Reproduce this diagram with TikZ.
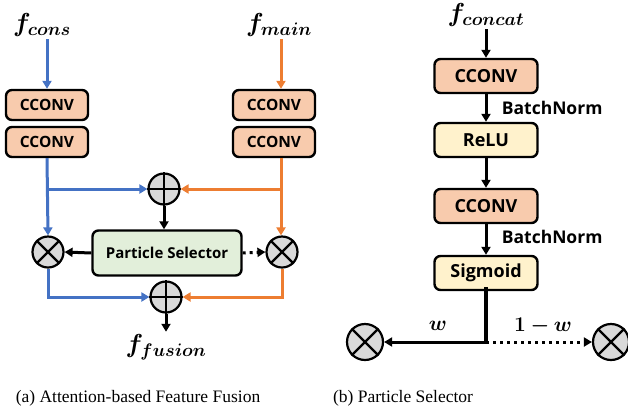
\documentclass[tikz,border=0pt]{standalone}
\usepackage{fix-cm}
\usepackage{amsmath}
\usepackage{bm}
\usepackage{fontspec}
\setmainfont{Liberation Serif}
\newfontfamily\boxfont{Open Sans}
\usepackage{tikz}
\usetikzlibrary{arrows.meta}
\usetikzlibrary{calc}
\definecolor{convfill}{HTML}{F8CBAD}
\definecolor{actfill}{HTML}{FFF2CC}
\definecolor{selfill}{HTML}{E2EFDA}
\definecolor{opfill}{HTML}{D9D9D9}
\definecolor{consblue}{HTML}{4472C4}
\definecolor{mainorange}{HTML}{ED7D31}

\begin{document}
\begin{tikzpicture}[x=1pt,y=-1pt,line width=3pt,
  >={Triangle[length=8pt,width=9pt]},
  layer/.style={draw,rounded corners=6pt,line width=2.4pt,inner sep=0pt,
    font=\boxfont\bfseries\fontsize{15.5}{17}\selectfont},
  cconv/.style={layer,fill=convfill,minimum width=82pt,minimum height=30pt},
  bigconv/.style={layer,fill=convfill,minimum width=103pt,minimum height=34pt,
    font=\boxfont\bfseries\fontsize{18}{20}\selectfont},
  act/.style={layer,fill=actfill,minimum width=103pt,minimum height=34pt,
    font=\boxfont\bfseries\fontsize{18}{20}\selectfont},
  op/.style={circle,draw,fill=opfill,line width=2.2pt,minimum size=#1,inner sep=0pt},
  op/.default=31pt,
  feat/.style={font=\fontsize{26}{28}\selectfont,inner sep=1pt},
  bnlabel/.style={anchor=west,font=\boxfont\bfseries\fontsize{17.5}{19}\selectfont},
  caption/.style={font=\fontsize{17.5}{20}\selectfont}]

  \useasboundingbox (0,0) rectangle (628,413);

  % (a) feature fusion
  \node[feat] at (42,25) (fcons) {$\bm{f_{cons}}$};
  \node[feat] at (279,25) (fmain) {$\bm{f_{main}}$};
  \node[cconv] at (47,105) (cc1) {CCONV};
  \node[cconv] at (47,142) (cc2) {CCONV};
  \node[cconv] at (274,105) (cm1) {CCONV};
  \node[cconv] at (274,142) (cm2) {CCONV};
  \coordinate (otop) at ([xshift=7pt]cm1.north);
  \coordinate (otap) at ([xshift=7pt]cm2.south);

  \node[op] at (164,189) (add1) {};
  \node[op] at (48,252) (mull) {};
  \node[op] at (282,252) (mulr) {};
  \node[op] at (166,297) (add2) {};
  \node[layer,fill=selfill,minimum width=149pt,minimum height=45pt,
    font=\boxfont\bfseries\fontsize{15}{17}\selectfont] at (167,253) (sel) {Particle Selector};
  \node[feat] at (166,347) (ffus) {$\bm{f_{fusion}}$};

  \foreach \o in {add1,add2}{
    \draw[line width=2.2pt] (\o.north) -- (\o.south) (\o.west) -- (\o.east);
  }
  \foreach \o in {mull,mulr}{
    \draw[line width=2.2pt] (\o.north west) -- (\o.south east) (\o.north east) -- (\o.south west);
  }

  \draw[->,consblue] (cc1.north |- fcons.south) -- (cc1.north);
  \draw[->,mainorange] (otop |- fmain.south) -- (otop);
  \draw[->,consblue] (cc2.south) -- (mull.north);
  \draw[->,consblue] (cc2.south |- add1) -- (add1.west);
  \draw[->,mainorange] (otap) -- (otap |- mulr.north);
  \draw[->,mainorange] (otap |- add1) -- (add1.east);
  \draw[->] (add1.south) -- (add1.south |- sel.north);
  \draw[->] (sel.west) -- (mull.east);
  \draw[->,dash pattern=on 3pt off 4pt] (sel.east) -- (mulr.west);
  \draw[->,consblue] (mull.south) |- (add2.west);
  \draw[->,mainorange] (mulr.south) |- (add2.east);
  \draw[->] (add2.south) -- (ffus.north);

  % (b) particle selector
  \node[feat] at (486,15) (fcat) {$\bm{f_{concat}}$};
  \node[bigconv] at (486,76) (sc1) {CCONV};
  \node[act] at (486,140) (relu) {ReLU};
  \node[bigconv] at (486,206) (sc2) {CCONV};
  \node[act] at (486,273) (sig) {Sigmoid};
  \node[bnlabel] at (497,108) (bn1) {BatchNorm};
  \node[bnlabel] at (497,237) (bn2) {BatchNorm};
  \coordinate (split) at (486,342);
  \node[op=36pt] at (365,342) (wl) {};
  \node[op=36pt] at (611,342) (wr) {};
  \draw[line width=2.2pt] (wl.north west) -- (wl.south east) (wl.north east) -- (wl.south west);
  \draw[line width=2.2pt] (wr.north west) -- (wr.south east) (wr.north east) -- (wr.south west);
  \node[feat,font=\fontsize{21}{23}\selectfont] at (438,326) (wlab) {$\bm{w}$};
  \node[feat,font=\fontsize{21}{23}\selectfont] at (543,326) (wrlab) {$\bm{1-w}$};

  \draw[->] (fcat.south) -- (sc1.north);
  \draw[->] (sc1.south) -- (relu.north);
  \draw[->] (relu.south) -- (sc2.north);
  \draw[->] (sc2.south) -- (sig.north);
  \draw[line width=3.5pt] ([yshift=4pt]sig.south) -- (split);
  \draw[->] (split) -- (wl.east);
  \draw[->,dash pattern=on 3pt off 4pt] (split) -- (wr.west);

  \node[caption] at (138,398) (capa) {(a) Attention-based Feature Fusion};
  \node[caption] at (403,398) (capb) {(b) Particle Selector};

\end{tikzpicture}
\end{document}
